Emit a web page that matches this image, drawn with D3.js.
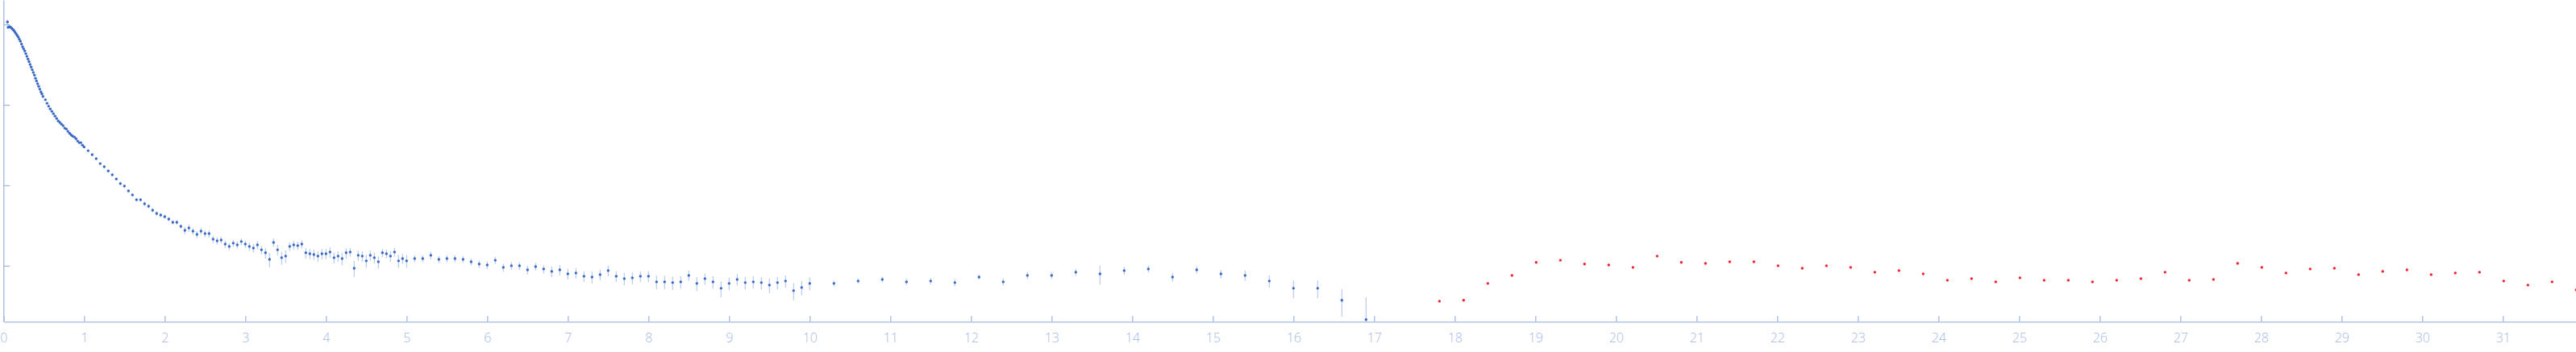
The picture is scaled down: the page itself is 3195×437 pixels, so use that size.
<!DOCTYPE html>
<html>
<head>
<meta charset="utf-8">
<script src="https://cdn.jsdelivr.net/npm/d3@7"></script>
<style>
  html, body { margin: 0; padding: 0; background: #ffffff; }
  svg { display: block; }
</style>
</head>
<body>
<svg id="chart" width="3195" height="437"></svg>
<script>
// ---- data: scattering vector s (blue, measured with errors) ----
const sBlue = [
  0.050,0.057,0.067,0.077,0.090,0.104,0.117,0.130,0.144,0.157,0.170,0.184,0.197,0.210,0.224,0.237,0.250,0.264,0.277,0.290,0.304,0.317,0.330,0.344,0.357,0.370,0.384,0.397,0.410,0.424,0.437,0.450,0.464,0.477,0.490,
  0.52,0.54,0.56,0.58,0.60,0.62,0.64,0.66,0.68,0.70,0.72,0.74,0.76,0.78,0.80,0.82,0.84,0.86,0.88,0.90,0.92,0.94,0.96,0.98,1.00,
  1.05,1.10,1.15,1.20,1.25,1.30,1.35,1.40,1.45,1.50,1.55,1.60,1.65,1.70,1.75,1.80,1.85,1.90,1.95,2.00,
  2.05,2.10,2.15,2.20,2.25,2.30,2.35,2.40,2.45,2.50,2.55,2.60,2.65,2.70,2.75,2.80,2.85,2.90,2.95,3.00,
  3.05,3.10,3.15,3.20,3.25,3.30,3.35,3.40,3.45,3.50,3.55,3.60,3.65,3.70,3.75,3.80,3.85,3.90,3.95,4.00,
  4.05,4.10,4.15,4.20,4.25,4.30,4.35,4.40,4.45,4.50,4.55,4.60,4.65,4.70,4.75,4.80,4.85,4.90,4.95,5.00,
  5.1,5.2,5.3,5.4,5.5,5.6,5.7,5.8,5.9,6.0,6.1,6.2,6.3,6.4,6.5,6.6,6.7,
  6.8,6.9,7.0,7.1,7.2,7.3,7.4,7.5,7.6,7.7,7.8,7.9,8.0,8.1,8.2,8.3,8.4,8.5,8.6,8.7,8.8,8.9,9.0,9.1,9.2,9.3,9.4,9.5,9.6,9.7,9.8,9.9,10.0,
  10.3,10.6,10.9,11.2,11.5,11.8,12.1,12.4,12.7,13.0,13.3,13.6,13.9,14.2,14.5,14.8,15.1,15.4,15.7,16.0,16.3,16.6,16.9
];
const iBlue = [
  1.072,0.918,0.933,0.933,0.918,0.891,0.863,0.838,0.800,0.764,0.729,0.696,0.655,0.617,0.570,0.528,0.497,0.468,0.433,0.401,0.372,0.344,0.318,0.295,0.273,0.253,0.234,0.214,0.198,0.183,0.170,0.157,0.145,0.137,0.127,
  0.1156,0.1047,0.0962,0.0891,0.0832,0.0776,0.0724,0.0676,0.0631,0.0603,0.0575,0.0550,0.0513,0.0501,0.0468,0.0443,0.0423,0.0407,0.0398,0.0380,0.0355,0.0339,0.0339,0.0316,0.0299,
  0.0269,0.0240,0.0214,0.0186,0.0170,0.0151,0.0135,0.0120,0.0105,0.00977,0.00851,0.00759,0.00661,0.00661,
  0.00589,0.00550,0.00490,0.00447,0.00427,0.00407,0.00380,0.00347,0.00347,0.00309,
  0.00275,0.00295,0.00269,0.00245,0.00269,0.00251,0.00251,0.00214,0.00204,0.00209,0.00186,0.00174,0.00191,0.00182,0.00200,0.00186,
  0.00174,0.00166,0.00182,0.00158,0.00145,0.00120,0.00195,0.00158,0.00126,0.00132,0.00174,0.00182,0.00178,0.00186,0.00145,0.00141,0.00138,0.00132,0.00141,0.00141,
  0.00148,0.00126,0.00132,0.00123,0.00145,0.00148,0.000933,0.00135,0.00132,0.00115,0.00135,0.00126,0.00112,0.00145,0.00141,0.00132,0.00148,0.00115,0.00123,0.00115,
  0.00123,0.00123,0.00135,0.00120,0.00123,0.00123,0.00120,0.00112,0.00105,0.00102,0.00117,0.000955,0.00100,0.00100,0.000891,0.000977,0.000912,
  0.000851,0.000891,0.000794,0.000813,0.000741,0.000724,0.000776,0.000871,0.000741,0.000692,0.000708,0.000741,0.000741,0.000631,0.000631,0.000617,0.000631,0.000759,0.000603,0.000692,0.000631,0.000525,0.000603,0.000676,0.000617,0.000631,0.000617,0.000575,0.000617,0.000646,0.000490,0.000537,0.000603,
  0.000603,0.000646,0.000676,0.000631,0.000646,0.000617,0.000724,0.000631,0.000759,0.000759,0.000832,0.000794,0.000871,0.000912,0.000724,0.000891,0.000794,0.000759,0.000646,0.000525,0.000525,0.000372,0.000214
];
const eBlue = [
  0.086,0.0092,0.0093,0.0093,0.0092,0.0089,0.0086,0.0084,0.0080,0.0076,0.0073,0.0070,0.0066,0.0062,0.0057,0.0053,0.0050,0.0047,0.0043,0.0040,0.0037,0.0034,0.0032,0.0030,0.0027,0.0025,0.0023,0.0021,0.0020,0.0018,0.0017,0.0016,0.0015,0.0014,0.0013,
  0.0017,0.0016,0.0014,0.0013,0.0012,0.0012,0.0011,0.0010,0.00095,0.00090,0.00086,0.00083,0.00077,0.00075,0.00070,0.00066,0.00063,0.00061,0.00060,0.00057,0.00053,0.00051,0.00051,0.00047,0.00045,
  0.00081,0.00072,0.00064,0.00056,0.00051,0.00045,0.00041,0.00036,0.00032,0.00029,0.00026,0.00023,0.00020,0.00020,
  0.00035,0.00033,0.00029,0.00027,0.00026,0.00024,0.00023,0.00021,0.00021,0.00019,
  0.00028,0.00030,0.00027,0.00025,0.00027,0.00025,0.00025,0.00021,0.00020,0.00021,0.00019,0.00017,0.00019,0.00018,0.00020,0.00019,
  0.00021,0.00020,0.00022,0.00019,0.00022,0.00024,0.00023,0.00024,0.00023,0.00024,0.00021,0.00022,0.00021,0.00022,0.00022,0.00021,0.00021,0.00020,0.00021,0.00021,
  0.00022,0.00019,0.00020,0.00022,0.00022,0.00018,0.00021,0.00020,0.00020,0.00021,0.00020,0.00019,0.00020,0.00017,0.00017,0.00020,0.00018,0.00021,0.00018,0.00021,
  0.00012,0.00012,0.00014,0.00012,0.00012,0.00012,0.00012,0.00011,0.00011,0.00011,0.00012,0.00011,0.00011,0.00011,0.00011,0.00011,0.00011,
  0.00013,0.00013,0.00012,0.00012,0.00011,0.00012,0.00012,0.00013,0.00011,0.00012,0.00012,0.00011,0.00011,0.00012,0.00012,0.00012,0.00011,0.00011,0.00012,0.00011,0.00011,0.00012,0.00011,0.00011,0.00011,0.00011,0.00011,0.00012,0.00011,0.00011,0.00012,0.00011,0.00011,
  0.000048,0.000050,0.000055,0.000057,0.000058,0.000062,0.000051,0.000063,0.000076,0.000076,0.000083,0.00021,0.00010,0.000091,0.000087,0.000089,0.000095,0.00011,0.00011,0.00013,0.00013,0.00014,0.00019
];

// ---- data: red series (high-angle, no error bars) ----
const sRed = [
  17.81,18.11,18.41,18.71,19.01,19.31,19.61,19.91,20.21,20.51,20.81,21.11,21.41,21.71,22.01,22.31,22.61,22.91,23.21,23.51,23.81,
  24.11,24.41,24.71,25.01,25.31,25.61,25.91,26.21,26.51,26.81,27.11,27.41,27.71,28.01,28.31,28.61,28.91,
  29.21,29.51,29.81,30.11,30.41,30.71,31.01,31.31,31.61,31.91
];
const iRed = [
  0.000363,0.000372,0.000603,0.000759,0.00110,0.00117,0.00105,0.00102,0.000955,0.00132,0.00110,0.00107,0.00112,0.00112,0.00100,0.000933,0.00100,0.000955,0.000832,0.000871,0.000794,
  0.000661,0.000692,0.000631,0.000708,0.000661,0.000661,0.000631,0.000661,0.000692,0.000832,0.000661,0.000676,0.00107,0.000955,0.000813,0.000912,0.000933,
  0.000776,0.000851,0.000891,0.000776,0.000813,0.000832,0.000646,0.000575,0.000631,0.000501
];

// ---- tick values ----
const xTickValues = [0,1,2,3,4,5,6,7,8,9,10,11,12,13,14,15,16,17,18,19,20,21,22,23,24,25,26,27,28,29,30,31];
const yTickValues = [1, 0.1, 0.01, 0.001];
const xDomain = [0, 31.91];
const yDomain = [0.000202, 2.01];

// ---- drawing ----
const W = 3195, H = 437;
const plotLeft = 4.3, plotBottom = 399.3, plotTop = 0;
const axisColor = "#a2b7df";
const labelColor = "#a6bae2";

const svg = d3.select("#chart");

const x = d3.scaleLinear().domain(xDomain).range([plotLeft, 3195.3]);
const y = d3.scaleLog().domain(yDomain).range([plotBottom, plotTop]);

svg.append("defs").append("clipPath").attr("id", "plotclip")
  .append("rect").attr("x", 0).attr("y", 0).attr("width", W).attr("height", plotBottom);

const blue = sBlue.map((s, i) => ({ s, v: iBlue[i], e: eBlue[i] }));
const red = sRed.map((s, i) => ({ s, v: iRed[i] }));

const g = svg.append("g").attr("clip-path", "url(#plotclip)");

// error bars
g.append("g").selectAll("line").data(blue).join("line")
  .attr("x1", d => x(d.s)).attr("x2", d => x(d.s))
  .attr("y1", d => y(d.v + d.e))
  .attr("y2", d => y(Math.max(d.v - d.e, yDomain[0] * 0.5)))
  .attr("stroke", "#b9cbeb").attr("stroke-width", 1.2);

// blue points
g.append("g").selectAll("circle").data(blue).join("circle")
  .attr("cx", d => x(d.s)).attr("cy", d => y(d.v)).attr("r", 1.7)
  .attr("fill", "#3a69c3");

// red points
g.append("g").selectAll("circle").data(red).join("circle")
  .attr("cx", d => x(d.s)).attr("cy", d => y(d.v)).attr("r", 1.7)
  .attr("fill", "#ee2230");

// x axis
const xAxis = d3.axisBottom(x).tickValues(xTickValues).tickFormat(d3.format("d"))
  .tickSize(-7).tickSizeOuter(0).tickPadding(14);
const gx = svg.append("g").attr("transform", `translate(0,${plotBottom})`).call(xAxis);
gx.select(".domain").attr("stroke", axisColor).attr("stroke-width", 1.3);
gx.selectAll(".tick line").attr("stroke", axisColor).attr("stroke-width", 1.3);
gx.selectAll(".tick text").attr("fill", labelColor)
  .style("font-family", "'Open Sans', 'DejaVu Sans', sans-serif")
  .style("font-size", "16px").style("font-weight", 300);

// y axis
const yAxis = d3.axisRight(y).tickValues(yTickValues).tickFormat("")
  .tickSize(8).tickSizeOuter(0);
const gy = svg.append("g").attr("transform", `translate(${plotLeft},0)`).call(yAxis);
gy.select(".domain").attr("stroke", axisColor).attr("stroke-width", 1.3);
gy.selectAll(".tick line").attr("stroke", axisColor).attr("stroke-width", 1.3);
</script>
</body>
</html>
